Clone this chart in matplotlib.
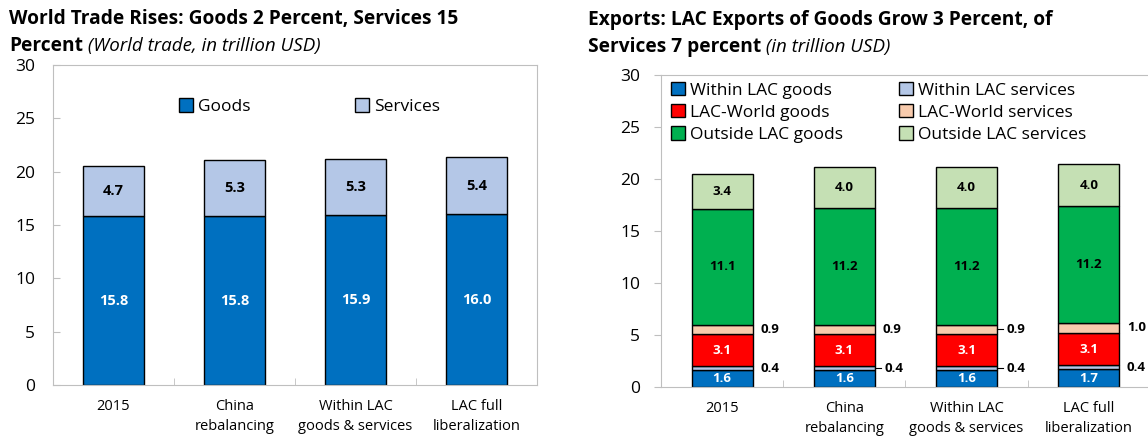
import matplotlib
matplotlib.use("Agg")
import matplotlib.pyplot as plt
import numpy as np

plt.rcParams['font.family'] = ['Open Sans', 'DejaVu Sans']

categories = ["2015", "China\nrebalancing", "Within LAC\ngoods & services", "LAC full\nliberalization"]

# left panel: world trade
world_goods = [15.8, 15.8, 15.9, 16.0]
world_services = [4.7, 5.3, 5.3, 5.4]

# right panel: LAC exports
within_goods = [1.6, 1.6, 1.6, 1.7]
within_services = [0.4, 0.4, 0.4, 0.4]
world_lac_goods = [3.1, 3.1, 3.1, 3.1]
world_lac_services = [0.9, 0.9, 0.9, 1.0]
outside_goods = [11.1, 11.2, 11.2, 11.2]
outside_services = [3.4, 4.0, 4.0, 4.0]

BLUE = "#0070C0"
LBLUE = "#B4C7E7"
RED = "#FF0000"
PEACH = "#F8CBAD"
GREEN = "#00B050"
LGREEN = "#C5E0B4"
GRAY = "#BFBFBF"

W, H = 1148, 438
fig = plt.figure(figsize=(W / 100, H / 100), dpi=100)


def px_axes(l, r, t, b):
	return fig.add_axes([l / W, 1 - b / H, (r - l) / W, (b - t) / H])


x = np.arange(len(categories))
bw = 0.5

# ---------------- left chart ----------------
ax1 = px_axes(53, 537, 65, 385)
ax1.bar(x, world_goods, bw, color=BLUE, edgecolor="black", linewidth=1, label="Goods")
ax1.bar(x, world_services, bw, bottom=world_goods, color=LBLUE, edgecolor="black", linewidth=1,
		label="Services")
for i in range(len(x)):
	ax1.text(x[i], world_goods[i] / 2, "{:.1f}".format(world_goods[i]), ha="center", va="center",
			 color="white", fontsize=10.5, fontweight="bold")
	ax1.text(x[i], world_goods[i] + world_services[i] / 2, "{:.1f}".format(world_services[i]),
			 ha="center", va="center", color="black", fontsize=10.5, fontweight="bold")
ax1.set_xlim(-0.5, len(x) - 0.5)
ax1.set_ylim(0, 30)
ax1.set_yticks(range(0, 31, 5))
ax1.set_xticks(x)
ax1.set_xticklabels(categories, fontsize=10.5, linespacing=1.45)
ax1.set_xticks(x[:-1] + 0.5, minor=True)
ax1.tick_params(axis="x", which="major", length=0, pad=10)
ax1.tick_params(axis="x", which="minor", direction="in", length=5, color=GRAY)
ax1.tick_params(axis="y", direction="in", length=5, color=GRAY, labelsize=12.5, pad=13)
for s in ax1.spines.values():
	s.set_color(GRAY)
ax1.legend(loc="center", bbox_to_anchor=(0.53, 0.87), ncol=2, frameon=False, fontsize=12.5,
		   handlelength=0.8, handleheight=0.8, handletextpad=0.3, columnspacing=6.0)

# ---------------- right chart ----------------
ax2 = px_axes(661, 1150, 75, 387)
series = [
	(within_goods, BLUE, "Within LAC goods"),
	(within_services, LBLUE, "Within LAC services"),
	(world_lac_goods, RED, "LAC-World goods"),
	(world_lac_services, PEACH, "LAC-World services"),
	(outside_goods, GREEN, "Outside LAC goods"),
	(outside_services, LGREEN, "Outside LAC services"),
]
bottom = np.zeros(len(x))
handles = {}
centers = []
for vals, col, lab in series:
	bars = ax2.bar(x, vals, bw, bottom=bottom, color=col, edgecolor="black", linewidth=1, label=lab)
	handles[lab] = bars
	centers.append(bottom + np.array(vals) / 2)
	bottom = bottom + np.array(vals)

inside = {0: "white", 2: "white", 4: "black", 5: "black"}
for k, colr in inside.items():
	vals = series[k][0]
	for i in range(len(x)):
		ax2.text(x[i], centers[k][i], "{:.1f}".format(vals[i]), ha="center", va="center",
				 color=colr, fontsize=9.5, fontweight="bold")

# small segments labelled beside the bar, some with a short leader line
leader = {1: [False, True, True, False], 3: [False, False, True, False]}
for k in (1, 3):
	vals = series[k][0]
	for i in range(len(x)):
		xe = x[i] + bw / 2
		if leader[k][i]:
			ax2.plot([xe, xe + 0.05], [centers[k][i], centers[k][i]], color="black", linewidth=0.8)
			tx = xe + 0.08
		else:
			tx = xe + 0.06
		ax2.text(tx, centers[k][i], "{:.1f}".format(vals[i]), ha="left", va="center",
				 color="black", fontsize=9.5, fontweight="bold")

ax2.set_xlim(-0.5, len(x) - 0.5)
ax2.set_ylim(0, 30)
ax2.set_yticks(range(0, 31, 5))
ax2.set_xticks(x)
ax2.set_xticklabels(categories, fontsize=10.5, linespacing=1.45)
ax2.set_xticks(x[:-1] + 0.5, minor=True)
ax2.tick_params(axis="x", which="major", length=0, pad=10)
ax2.tick_params(axis="x", which="minor", direction="in", length=5, color=GRAY)
ax2.tick_params(axis="y", direction="out", length=5, color=GRAY, labelsize=12.5, pad=10)
for s in ax2.spines.values():
	s.set_color(GRAY)
ax2.spines["right"].set_visible(False)

order = ["Within LAC goods", "LAC-World goods", "Outside LAC goods",
		 "Within LAC services", "LAC-World services", "Outside LAC services"]
ax2.legend([handles[o] for o in order], order, loc="upper left", bbox_to_anchor=(0.006, 1.0), ncol=2,
		   frameon=False, fontsize=12.5, handlelength=0.8, handleheight=0.8, handletextpad=0.3,
		   columnspacing=3.25, labelspacing=0.32, borderaxespad=0.0)


# ---------------- titles ----------------
def title(xp, y1, line1, bold2, ital2):
	fig.text(xp / W, 1 - y1 / H, line1, fontsize=13.8, fontweight="bold", va="center")
	t = fig.text(xp / W, 1 - (y1 + 27) / H, bold2, fontsize=13.8, fontweight="bold", va="center")
	fig.add_artist(plt.Annotation(" " + ital2, xy=(1, 0.5), xycoords=t, fontsize=13.5, style="italic",
								  va="center", ha="left", annotation_clip=False))


title(9, 19, "World Trade Rises: Goods 2 Percent, Services 15", "Percent", "(World trade, in trillion USD)")
title(588, 20, "Exports: LAC Exports of Goods Grow 3 Percent, of", "Services 7 percent", "(in trillion USD)")

fig.savefig("out.png", dpi=100)
